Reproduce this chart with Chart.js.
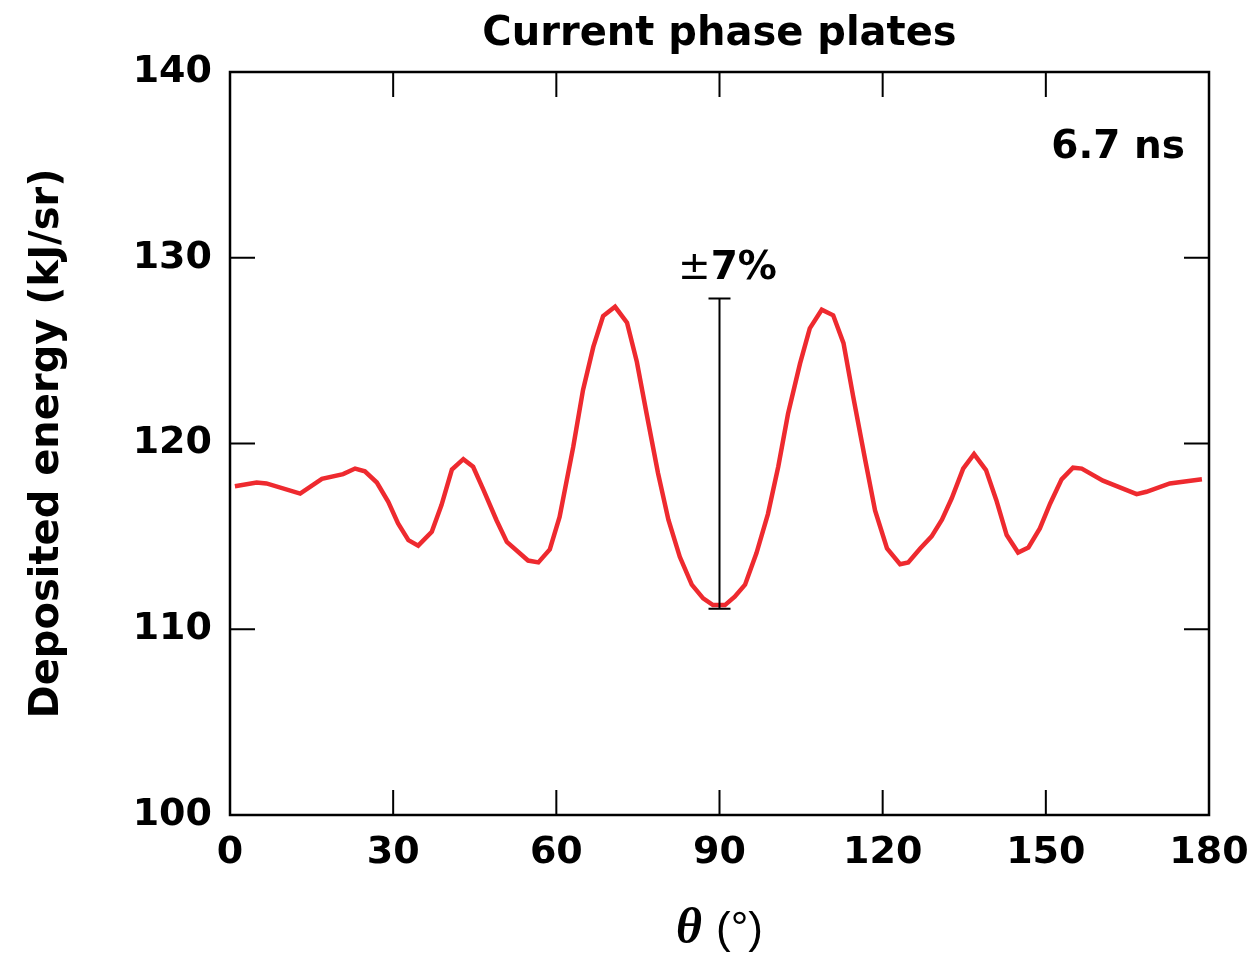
<!DOCTYPE html>
<html>
<head>
<meta charset="utf-8">
<script src="https://cdn.jsdelivr.net/npm/chart.js@4/dist/chart.umd.min.js"></script>
<style>
  body { margin: 0; background: #fff; }
  #wrap { width: 1251px; height: 955px; position: relative; }
</style>
</head>
<body>
<div id="wrap"><canvas id="chart"></canvas></div>
<script>
// Deposited energy vs polar angle
const thetaDeg = [
  0.9, 4.9, 6.7, 12.9, 16.9, 20.8, 23.0, 24.8, 27.0, 29.1,
  30.9, 32.8, 34.6, 37.1, 38.9, 40.8, 42.9, 44.7, 46.6, 49.0,
  50.9, 54.8, 56.7, 58.8, 60.6, 63.1, 64.9, 66.8, 68.6, 70.8,
  73.0, 74.8, 76.6, 78.7, 80.6, 82.7, 84.9, 87.0, 88.8, 91.0,
  92.8, 94.7, 96.8, 98.9, 100.8, 102.6, 104.8, 106.6, 108.8, 110.9,
  112.8, 114.6, 116.8, 118.6, 120.8, 123.2, 124.7, 126.9, 129.0, 130.9,
  132.7, 134.8, 136.8, 139.0, 140.9, 142.8, 144.9, 146.8, 148.9, 150.8,
  152.9, 155.0, 156.6, 160.5, 166.7, 168.5, 172.8, 178.7
];
const energyKJ = [
  117.7, 117.9, 117.85, 117.3, 118.1, 118.35, 118.65, 118.5, 117.9, 116.86,
  115.7, 114.8, 114.5, 115.25, 116.7, 118.6, 119.16, 118.75, 117.5, 115.87,
  114.7, 113.7, 113.6, 114.3, 116.05, 119.8, 122.87, 125.2, 126.86, 127.36,
  126.5, 124.4, 121.6, 118.4, 115.9, 113.9, 112.4, 111.66, 111.3, 111.3,
  111.75, 112.4, 114.1, 116.2, 118.75, 121.6, 124.3, 126.2, 127.2, 126.9,
  125.4, 122.5, 119.1, 116.4, 114.35, 113.5, 113.6, 114.35, 115.0, 115.9,
  117.05, 118.65, 119.43, 118.57, 116.95, 115.07, 114.13, 114.4, 115.43, 116.77,
  118.07, 118.7, 118.65, 118.0, 117.27, 117.4, 117.85, 118.07
];

const xTicks = [0, 30, 60, 90, 120, 150, 180];
const yTicks = [100, 110, 120, 130, 140];

// peak-to-valley bar at 90 degrees
const errorBarTheta = 90;
const errorBarTop = 127.8;
const errorBarBottom = 111.1;

const FONT = "'DejaVu Sans', sans-serif";

// Frame, inward ticks, error bar and all free text
const decorations = {
  id: 'decorations',
  afterDraw(chart) {
    const { ctx, chartArea: a, scales: { x, y } } = chart;
    ctx.save();
    ctx.strokeStyle = '#000';
    ctx.lineWidth = 2.5;
    ctx.strokeRect(a.left, a.top, a.right - a.left, a.bottom - a.top);

    const tl = 25;
    ctx.lineWidth = 2;
    ctx.beginPath();
    xTicks.forEach(v => {
      const px = x.getPixelForValue(v);
      ctx.moveTo(px, a.bottom); ctx.lineTo(px, a.bottom - tl);
      ctx.moveTo(px, a.top); ctx.lineTo(px, a.top + tl);
    });
    yTicks.forEach(v => {
      const py = y.getPixelForValue(v);
      ctx.moveTo(a.left, py); ctx.lineTo(a.left + tl, py);
      ctx.moveTo(a.right, py); ctx.lineTo(a.right - tl, py);
    });
    ctx.stroke();

    // error bar
    const ex = x.getPixelForValue(errorBarTheta);
    const et = y.getPixelForValue(errorBarTop);
    const eb = y.getPixelForValue(errorBarBottom);
    ctx.beginPath();
    ctx.moveTo(ex, et); ctx.lineTo(ex, eb);
    ctx.moveTo(ex - 11, et); ctx.lineTo(ex + 11, et);
    ctx.moveTo(ex - 11, eb); ctx.lineTo(ex + 11, eb);
    ctx.stroke();

    ctx.fillStyle = '#000';
    ctx.textBaseline = 'alphabetic';

    // ±7% label
    ctx.font = `39px ${FONT}`;
    const pmW = ctx.measureText('±').width;
    ctx.font = `bold 39px ${FONT}`;
    const pcW = ctx.measureText('7%').width;
    let lx = ex + 8 - (pmW + pcW) / 2;
    ctx.textAlign = 'left';
    ctx.font = `39px ${FONT}`;
    ctx.fillText('±', lx, 279);
    ctx.font = `bold 39px ${FONT}`;
    ctx.fillText('7%', lx + pmW, 279);

    // title
    ctx.textAlign = 'center';
    ctx.font = `bold 40px ${FONT}`;
    ctx.fillText('Current phase plates', (a.left + a.right) / 2, 45);

    // time stamp
    ctx.textAlign = 'right';
    ctx.font = `bold 39px ${FONT}`;
    ctx.fillText('6.7 ns', a.right - 24, 158);

    // y title
    ctx.save();
    ctx.translate(58, (a.top + a.bottom) / 2);
    ctx.rotate(-Math.PI / 2);
    ctx.textAlign = 'center';
    ctx.font = `bold 40px ${FONT}`;
    ctx.fillText('Deposited energy (kJ/sr)', 0, 0);
    ctx.restore();

    // x title: italic theta + (°)
    ctx.textAlign = 'left';
    const thFont = "bold italic 50px 'Liberation Serif', serif";
    const degFont = "44px 'Liberation Sans', sans-serif";
    ctx.font = thFont;
    const thW = ctx.measureText('θ').width;
    ctx.font = degFont;
    const gap = 14;
    const degW = ctx.measureText('(°)').width;
    const tx = (a.left + a.right) / 2 - (thW + gap + degW) / 2;
    ctx.font = thFont;
    ctx.fillText('θ', tx, 943);
    ctx.font = degFont;
    ctx.fillText('(°)', tx + thW + gap, 943);
    ctx.restore();
  }
};

new Chart(document.getElementById('chart'), {
  type: 'line',
  data: {
    datasets: [{
      data: thetaDeg.map((t, i) => ({ x: t, y: energyKJ[i] })),
      borderColor: '#ee2a2f',
      borderWidth: 4.5,
      pointRadius: 0,
      tension: 0,
      fill: false,
    }],
  },
  options: {
    responsive: true,
    maintainAspectRatio: false,
    animation: false,
    layout: { padding: { left: 0, right: 42, top: 72, bottom: 0 } },
    plugins: {
      legend: { display: false },
      tooltip: { enabled: false },
      title: { display: false },
    },
    scales: {
      x: {
        type: 'linear',
        min: 0,
        max: 180,
        afterBuildTicks: s => { s.ticks = xTicks.map(v => ({ value: v })); },
        afterFit: s => { s.height = 140; s.paddingLeft = 0; s.paddingRight = 0; },
        ticks: {
          color: '#000',
          padding: 15,
          font: { family: FONT, size: 38, weight: 'bold' },
        },
        grid: { display: false, drawTicks: false },
        border: { display: false },
      },
      y: {
        min: 100,
        max: 140,
        afterBuildTicks: s => { s.ticks = yTicks.map(v => ({ value: v })); },
        afterFit: s => { s.width = 230; s.paddingTop = 0; s.paddingBottom = 0; },
        ticks: {
          color: '#000',
          padding: 18,
          font: { family: FONT, size: 38, weight: 'bold' },
        },
        grid: { display: false, drawTicks: false },
        border: { display: false },
      },
    },
  },
  plugins: [decorations],
});
</script>
</body>
</html>
